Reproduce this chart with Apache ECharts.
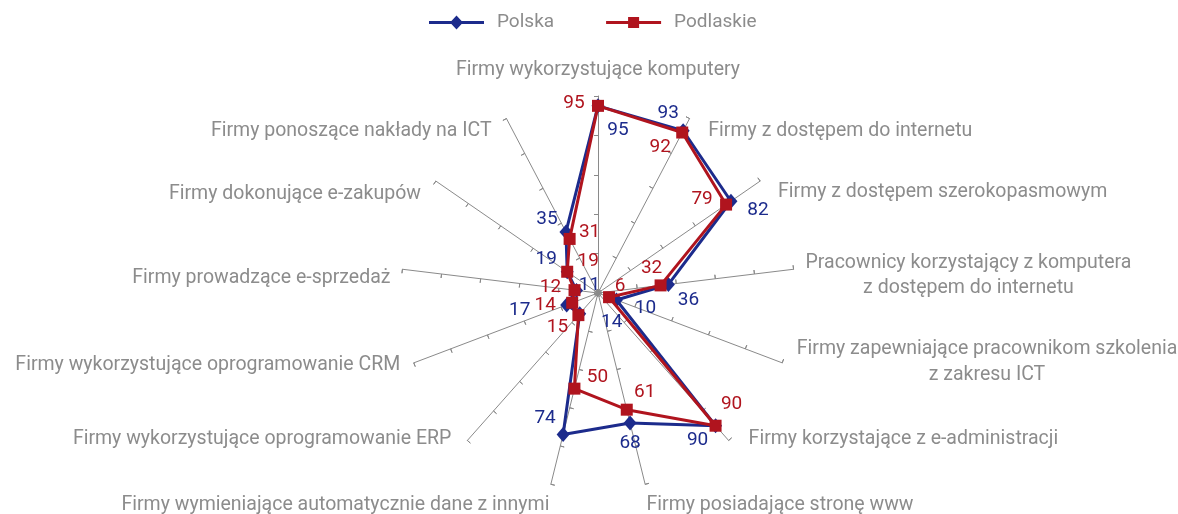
<!DOCTYPE html>
<html>
<head>
<meta charset="utf-8">
<script src="https://cdn.jsdelivr.net/npm/echarts@6/dist/echarts.min.js"></script>
<style>
  html, body { margin: 0; padding: 0; background: #ffffff; }
  #chart { width: 1178px; height: 514px; }
</style>
</head>
<body>
<div id="chart"></div>
<script>
// Indicators listed clockwise, starting from the top axis
const indicators = [
  'Firmy wykorzystujące komputery',
  'Firmy z dostępem do internetu',
  'Firmy z dostępem szerokopasmowym',
  'Pracownicy korzystający z komputera\nz dostępem do internetu',
  'Firmy zapewniające pracownikom szkolenia\nz zakresu ICT',
  'Firmy korzystające z e-administracji',
  'Firmy posiadające stronę www',
  'Firmy wymieniające automatycznie dane z innymi',
  'Firmy wykorzystujące oprogramowanie ERP',
  'Firmy wykorzystujące oprogramowanie CRM',
  'Firmy prowadzące e-sprzedaż',
  'Firmy dokonujące e-zakupów',
  'Firmy ponoszące nakłady na ICT'
];
const seriesNames = ['Polska', 'Podlaskie'];
const polska = [95, 93, 82, 36, 10, 90, 68, 74, 14, 17, 11, 19, 35];
const podlaskie = [95, 92, 79, 32, 6, 90, 61, 50, 15, 14, 12, 19, 31];
const axisMax = 100;

// Styling
const BLUE = '#1c2b8c';
const RED = '#b0141e';
const GREY_TEXT = '#8c8c8c';
const GREY_AXIS = '#8a8a8a';
const FONT = 'Roboto';
const NAME_SIZE = 19.5;
const CENTER = [598, 293];
const RADIUS = 197;

// Value-label nudges [dx, dy] relative to each point
const polskaLabelOffsets = [[20, 24], [-15, -18], [27, 9], [20, 16], [29, 8], [-18, 15], [0, 20],
  [-18, -16], [32, 9], [-47, 5], [13, -5], [-21, -12], [-19, -13]];
const podlaskieLabelOffsets = [[-24, -3], [-22, 15], [-24, -5], [-9, -17], [11, -11], [16, -21], [18, -17],
  [23, -11], [-21, 12], [-27, 2], [-24, -3], [21, -10], [20, -7]];

// Padding [top, right, bottom, left] used to place each axis name; one entry per text line
const namePads = [
  [[0, 0, 10, 0]],
  [[36, 0, 0, 16]],
  [[29, 0, 0, 13]],
  [[14, 0, 0, 6], [14, 0, 0, 6]],
  [[0, 0, 6, 9], [0, 0, 6, 9]],
  [[0, 0, 11, 16]],
  [[31, 0, 0, 0]],
  [[31, 0, 0, 0]],
  [[0, 12, 11, 0]],
  [[0, 8, 0, 0]],
  [[20, 6, 0, 0]],
  [[33, 10, 0, 0]],
  [[36, 12, 0, 0]]
];
const nameLineHeights = [null, null, null, 25, 26, null, null, null, null, null, null, null, null];

// The radar component lays indicators out counter-clockwise, so keep the
// first axis at the top and reverse the rest to read clockwise.
const radarOrder = indicators.map((_, i) => (i === 0 ? 0 : indicators.length - i));
const reorder = arr => radarOrder.map(i => arr[i]);

const rich = {};
namePads.forEach((pads, i) => {
  pads.forEach((p, k) => {
    const style = { padding: p, fontSize: NAME_SIZE, fontFamily: FONT, color: GREY_TEXT };
    if (pads.length > 1) {
      style.align = 'center';
      style.lineHeight = nameLineHeights[i];
    }
    rich['n' + i + '_' + k] = style;
  });
});

const radarIndicators = reorder(indicators).map(name => ({ name: name, max: axisMax, min: 0 }));

const baseRadar = {
  center: CENTER,
  radius: RADIUS,
  startAngle: 90,
  shape: 'polygon',
  splitNumber: 5,
  indicator: radarIndicators,
  splitLine: { show: false },
  splitArea: { show: false },
  axisLabel: { show: false }
};

const valueLabel = color => ({
  show: true, position: 'inside', color: color, opacity: 1,
  fontSize: 19, fontFamily: FONT,
  formatter: p => String(p.value[0])
});

const option = {
  animation: false,
  backgroundColor: '#ffffff',
  legend: {
    left: 424,
    top: 8,
    itemWidth: 55,
    itemHeight: 14,
    itemGap: 52,
    selectedMode: false,
    textStyle: { fontSize: 19, fontFamily: FONT, color: GREY_TEXT, padding: [0, 0, 0, 8] },
    data: [
      { name: seriesNames[0], icon: 'path://M0,5.5H55V8.5H0Z M21,7L27.5,0L34,7L27.5,14Z' },
      { name: seriesNames[1], icon: 'path://M0,5.5H55V8.5H0Z M22,1.5H33V12.5H22Z M27.5,0L27.5,14' }
    ]
  },
  radar: [
    Object.assign({}, baseRadar, {
      axisNameGap: 6,
      axisName: {
        show: true,
        color: GREY_TEXT,
        fontSize: NAME_SIZE,
        fontFamily: FONT,
        rich: rich,
        formatter: function (name) {
          const i = indicators.indexOf(name);
          return name.split('\n').map((line, k) => '{n' + i + '_' + k + '|' + line + '}').join('\n');
        }
      },
      axisLine: { show: true, lineStyle: { color: GREY_AXIS, width: 1 } },
      axisTick: { show: true, length: 4, lineStyle: { color: GREY_AXIS, width: 1 } }
    }),
    // second set of ticks on the other side of each spoke, so the marks cross the axis
    Object.assign({}, baseRadar, {
      axisName: { show: false },
      axisLine: { show: false },
      axisTick: { show: true, inside: true, length: 4, lineStyle: { color: GREY_AXIS, width: 1 } }
    })
  ],
  polar: { center: CENTER, radius: RADIUS },
  angleAxis: {
    type: 'category',
    data: indicators,
    startAngle: 90,
    clockwise: true,
    boundaryGap: false,
    show: false
  },
  radiusAxis: { min: 0, max: axisMax, show: false },
  series: [
    {
      type: 'radar',
      radarIndex: 0,
      z: 3,
      data: [{
        name: seriesNames[0],
        value: reorder(polska),
        symbol: 'diamond',
        symbolSize: [13, 15],
        lineStyle: { color: BLUE, width: 3 },
        itemStyle: { color: BLUE }
      }]
    },
    {
      type: 'radar',
      radarIndex: 0,
      z: 4,
      data: [{
        name: seriesNames[1],
        value: reorder(podlaskie),
        symbol: 'rect',
        symbolSize: 12,
        lineStyle: { color: RED, width: 3 },
        itemStyle: { color: RED }
      }]
    },
    {
      name: 'Polska – wartości',
      type: 'scatter',
      coordinateSystem: 'polar',
      silent: true,
      z: 6,
      symbolSize: 1,
      itemStyle: { color: 'rgba(0,0,0,0)' },
      label: valueLabel(BLUE),
      data: polska.map((v, i) => ({ value: [v, i], label: { offset: polskaLabelOffsets[i] } }))
    },
    {
      name: 'Podlaskie – wartości',
      type: 'scatter',
      coordinateSystem: 'polar',
      silent: true,
      z: 6,
      symbolSize: 1,
      itemStyle: { color: 'rgba(0,0,0,0)' },
      label: valueLabel(RED),
      data: podlaskie.map((v, i) => ({ value: [v, i], label: { offset: podlaskieLabelOffsets[i] } }))
    }
  ]
};

const chart = echarts.init(document.getElementById('chart'), null, { renderer: 'canvas' });
chart.setOption(option);
</script>
</body>
</html>
